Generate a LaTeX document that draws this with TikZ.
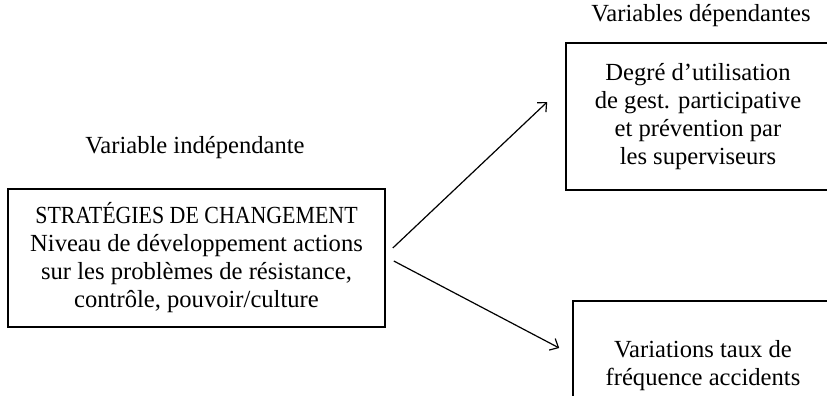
\documentclass[tikz,border=0pt]{standalone}
\usepackage{fontspec}
\setmainfont{Liberation Serif}
\usepackage{tikz}
\usetikzlibrary{arrows.meta}

\tikzset{
  varbox/.style={draw, line width=0.8pt, align=center, inner sep=0pt,
    font=\fontsize{12.3}{14}\selectfont},
  varlabel/.style={font=\fontsize{12.3}{14}\selectfont},
  link/.style={-{Straight Barb[length=3.5pt,width=6.5pt]}, line width=0.6pt}
}

\begin{document}
\begin{tikzpicture}[x=0.5pt,y=-0.5pt]
    \useasboundingbox (0,0) rectangle (827,396);
    \clip (0,0) rectangle (827,396);

    % Independent variable
    \node[varlabel] (indep) at (195,148) {Variable indépendante};
    \node[varbox, minimum width=188.5pt, minimum height=69pt] (strat) at (196.5,258)
      {{\addfontfeatures{FakeStretch=0.89}STRATÉGIES DE CHANGEMENT}\\Niveau de développement actions\\sur les problèmes de résistance,\\contrôle, pouvoir/culture};

    % Dependent variables
    \node[varlabel] (dep) at (701,16) {Variables dépendantes};
    \node[varbox, minimum width=132pt, minimum height=73.5pt] (gest) at (698,116.5)
      {Degré d'utilisation\\de gest. participative\\et prévention par\\les superviseurs};
    \node[varbox, minimum width=130pt, minimum height=65pt] (accid) at (703,366)
      {Variations taux de\\fréquence accidents};

    % Arrows
    \coordinate (s1) at ([xshift=3.5pt,yshift=5pt]strat.east);
    \coordinate (s2) at ([xshift=4pt,yshift=-1.5pt]strat.east);
    \coordinate (e1) at ([xshift=-9pt,yshift=7.25pt]gest.west);
    \coordinate (e2) at ([xshift=-6.5pt,yshift=9pt]accid.west);
    \draw[link] (s1) -- (e1);
    \draw[link] (s2) -- (e2);
\end{tikzpicture}
\end{document}
